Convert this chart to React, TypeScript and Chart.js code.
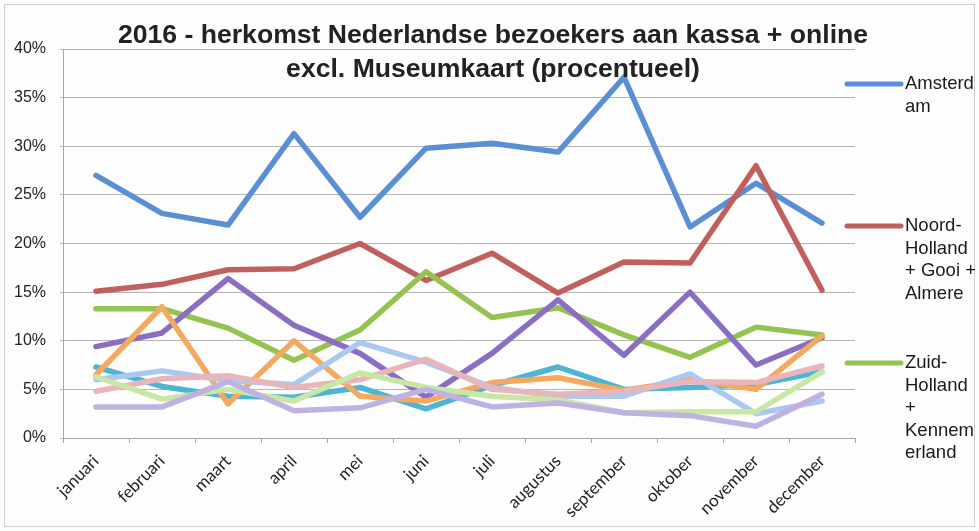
import { useEffect, useRef } from "react";
import { Chart, registerables } from "chart.js";
Chart.register(...registerables);

const months = ["januari", "februari", "maart", "april", "mei", "juni", "juli", "augustus", "september", "oktober", "november", "december"];
const amsterdam = [27.0, 23.1, 21.9, 31.3, 22.7, 29.8, 30.3, 29.4, 37.1, 21.7, 26.2, 22.1];
const noordHolland = [15.1, 15.8, 17.3, 17.4, 20.0, 16.2, 19.0, 14.9, 18.1, 18.0, 28.0, 15.2];
const zuidHolland = [13.3, 13.3, 11.3, 8.0, 11.1, 17.1, 12.4, 13.4, 10.6, 8.3, 11.4, 10.6];
const reeks4 = [9.4, 10.8, 16.4, 11.6, 8.7, 4.2, 8.7, 14.2, 8.5, 15.0, 7.5, 10.3];
const reeks5 = [7.3, 5.3, 4.3, 4.2, 5.2, 3.0, 5.4, 7.3, 5.0, 5.2, 5.5, 6.8];
const reeks6 = [6.5, 13.5, 3.5, 10.0, 4.3, 3.8, 5.7, 6.2, 4.9, 6.0, 5.0, 10.5];
const reeks7 = [6.0, 6.9, 5.9, 5.5, 9.8, 7.8, 5.2, 4.3, 4.3, 6.6, 2.5, 3.8];
const reeks8 = [4.8, 6.1, 6.4, 5.2, 6.0, 8.1, 5.0, 4.5, 4.8, 5.8, 5.7, 7.4];
const reeks9 = [6.3, 4.0, 5.0, 3.8, 6.7, 5.2, 4.3, 3.9, 2.6, 2.7, 2.7, 6.8];
const reeks10 = [3.2, 3.2, 5.8, 2.8, 3.1, 5.0, 3.2, 3.6, 2.6, 2.3, 1.2, 4.5];
const yTicks = [0, 5, 10, 15, 20, 25, 30, 35, 40];

const titleLines = ["2016 - herkomst Nederlandse bezoekers aan kassa + online", "excl. Museumkaart (procentueel)"];
const legendLines = [["Amsterd", "am"], ["Noord-", "Holland", "+ Gooi +", "Almere"], ["Zuid-", "Holland", "+", "Kennem", "erland"]];

const series = [
  { label: "Amsterdam", data: amsterdam, color: "#5b8fd4" },
  { label: "Noord-Holland + Gooi + Almere", data: noordHolland, color: "#c0605e" },
  { label: "Zuid-Holland + Kennemerland", data: zuidHolland, color: "#95c352" },
  { label: "reeks 4", data: reeks4, color: "#8a6ec2" },
  { label: "reeks 5", data: reeks5, color: "#4cb5d5" },
  { label: "reeks 6", data: reeks6, color: "#f4a860" },
  { label: "reeks 7", data: reeks7, color: "#aac8f0" },
  { label: "reeks 8", data: reeks8, color: "#e8b6ba" },
  { label: "reeks 9", data: reeks9, color: "#c8e6a4" },
  { label: "reeks 10", data: reeks10, color: "#bfb2e2" },
];

const decorPlugin = {
  id: "decor",
  beforeDraw(chart: any) {
    const ctx = chart.ctx;
    ctx.save();
    ctx.fillStyle = "#fdfdfd";
    ctx.fillRect(0, 0, chart.width, chart.height);
    ctx.strokeStyle = "#cfcfcf";
    ctx.lineWidth = 1;
    ctx.strokeRect(4.5, 4.5, chart.width - 9, chart.height - 9);
    ctx.restore();
  },
  afterDraw(chart: any) {
    const ctx = chart.ctx;
    ctx.save();
    ctx.fillStyle = "#222";
    ctx.font = "bold 26.6px 'Liberation Sans', Arial, sans-serif";
    ctx.textAlign = "center";
    ctx.textBaseline = "alphabetic";
    ctx.fillText(titleLines[0], 493, 43);
    ctx.fillText(titleLines[1], 493, 77);

    const starts = [84, 226, 363];
    ctx.font = "18.5px 'Liberation Sans', Arial, sans-serif";
    ctx.textAlign = "left";
    ctx.textBaseline = "middle";
    legendLines.forEach((lines, i) => {
      const y = starts[i];
      ctx.strokeStyle = series[i].color;
      ctx.lineWidth = 5;
      ctx.lineCap = "round";
      ctx.beginPath();
      ctx.moveTo(847, y);
      ctx.lineTo(901, y);
      ctx.stroke();
      ctx.fillStyle = "#1a1a1a";
      lines.forEach((t, j) => ctx.fillText(t, 905, y + j * 22.5));
    });
    ctx.restore();
  },
};

export default function App() {
  const ref = useRef<HTMLCanvasElement | null>(null);
  useEffect(() => {
    if (!ref.current) return;
    const chart = new Chart(ref.current, {
      type: "line",
      data: {
        labels: months,
        datasets: series.map((s, i) => ({
          label: s.label,
          data: s.data,
          borderColor: s.color,
          backgroundColor: s.color,
          borderWidth: 5.5,
          pointRadius: 0,
          tension: 0,
          fill: false,
          borderCapStyle: "round",
          borderJoinStyle: "round",
          order: -i,
        })),
      },
      options: {
        responsive: false,
        animation: false,
        layout: { padding: { top: 49, right: 124, left: 0, bottom: 0 } },
        plugins: { legend: { display: false }, title: { display: false }, tooltip: { enabled: false } },
        scales: {
          x: {
            offset: true,
            grid: { offset: true, drawOnChartArea: false, drawTicks: true, tickLength: 5, color: "#a8a8a8" },
            border: { color: "#a8a8a8" },
            ticks: { maxRotation: 45, minRotation: 45, autoSkip: false, font: { family: "Lato", size: 17 }, color: "#222", padding: 8 },
            afterFit: (s: any) => { s.height = 93; },
          },
          y: {
            min: 0,
            max: 40,
            afterBuildTicks: (s: any) => { s.ticks = yTicks.map((v) => ({ value: v })); },
            ticks: { callback: (v: any) => v + "%", font: { family: "'Liberation Sans', Arial", size: 16 }, color: "#222", padding: 14 },
            grid: { color: "#b4b4b4", tickLength: 3 },
            border: { color: "#a8a8a8" },
            afterFit: (s: any) => { s.width = 63; },
          },
        },
      },
      plugins: [decorPlugin],
    });
    return () => chart.destroy();
  }, []);
  return (
    <div style={{ position: "fixed", left: 0, top: 0, width: 979, height: 531 }}>
      <canvas ref={ref} width={979} height={531} style={{ width: 979, height: 531 }} />
    </div>
  );
}
